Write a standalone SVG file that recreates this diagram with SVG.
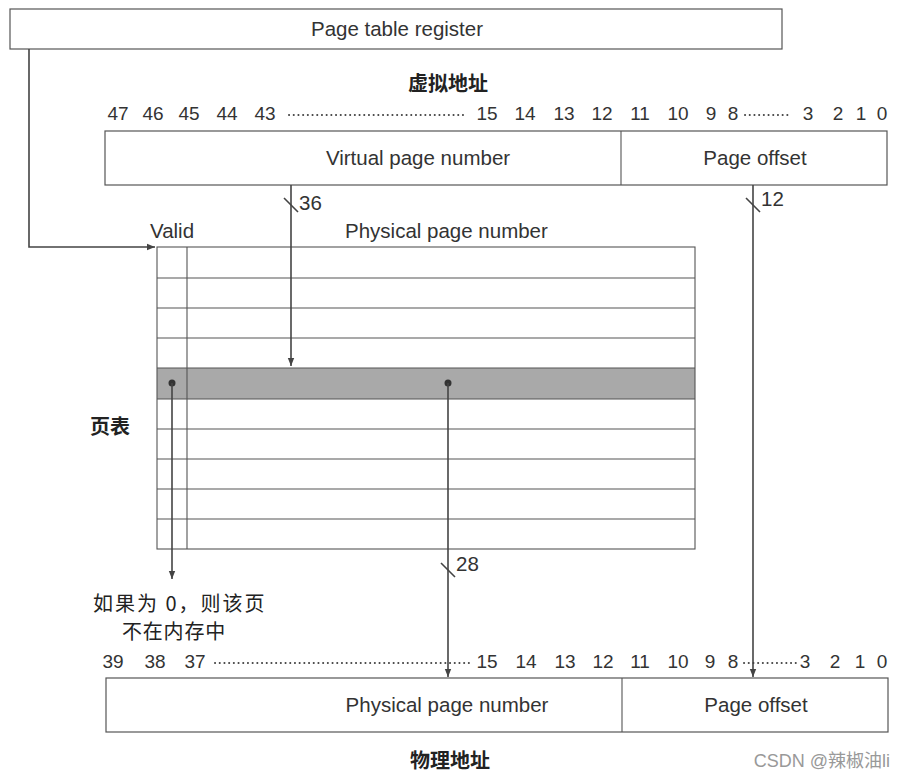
<svg xmlns="http://www.w3.org/2000/svg" width="906" height="779" viewBox="0 0 906 779">
<style>
.box{fill:#fff;stroke:#555;stroke-width:1.2}
.t{font-family:"Liberation Sans",Arial,sans-serif;font-size:20.5px;fill:#333}
.n{font-family:"Liberation Sans",Arial,sans-serif;font-size:19px;fill:#333;text-anchor:middle}
.c{text-anchor:middle}
.zh{font-family:"Noto Sans CJK SC","Noto Sans",sans-serif;font-size:20px;fill:#222}
.zb{font-family:"Noto Sans CJK SC","Noto Sans",sans-serif;font-size:20px;font-weight:bold;fill:#222}
.ln{stroke:#444;stroke-width:1.6;fill:none}
.tl{stroke:#555;stroke-width:1.1;fill:none}
.dot{stroke:#444;stroke-width:2;stroke-dasharray:0.1 4.6;stroke-linecap:round}
</style>
<defs>
<marker id="ah" markerWidth="10" markerHeight="10" refX="8" refY="4" orient="auto" markerUnits="userSpaceOnUse">
<path d="M0,0.8 L8,4 L0,7.2 Z" fill="#444"/>
</marker>
</defs>

<g id="page-table-register">
<rect class="box" x="10" y="9" width="772" height="40"/>
<text class="t c" x="397" y="36">Page table register</text>
</g>

<g id="virtual-address">
<text class="zb c" x="448" y="91">虚拟地址</text>
<text class="n" x="118" y="120">47</text>
<text class="n" x="153" y="120">46</text>
<text class="n" x="189" y="120">45</text>
<text class="n" x="227" y="120">44</text>
<text class="n" x="265" y="120">43</text>
<line class="dot" x1="289" y1="115" x2="466" y2="115"/>
<text class="n" x="487" y="120">15</text>
<text class="n" x="525" y="120">14</text>
<text class="n" x="564" y="120">13</text>
<text class="n" x="602" y="120">12</text>
<text class="n" x="640" y="120">11</text>
<text class="n" x="678" y="120">10</text>
<text class="n" x="711" y="120">9</text>
<text class="n" x="733" y="120">8</text>
<line class="dot" x1="745" y1="115" x2="792" y2="115"/>
<text class="n" x="808" y="120">3</text>
<text class="n" x="838" y="120">2</text>
<text class="n" x="861" y="120">1</text>
<text class="n" x="882" y="120">0</text>
<rect class="box" x="105" y="131" width="782" height="54"/>
<line class="tl" x1="621" y1="131" x2="621" y2="185"/>
<text class="t c" x="418" y="165">Virtual page number</text>
<text class="t c" x="755" y="165">Page offset</text>
</g>

<g id="page-table">
<text class="t" x="150" y="238">Valid</text>
<text class="t" x="345" y="238">Physical page number</text>
<text class="zb" x="90" y="434">页表</text>
<rect x="157" y="368" width="538" height="31" fill="#a9a9a9"/>
<rect class="tl" x="157" y="247" width="538" height="302"/>
<line class="tl" x1="187" y1="247" x2="187" y2="549"/>
<line class="tl" x1="157" y1="278" x2="695" y2="278"/>
<line class="tl" x1="157" y1="308" x2="695" y2="308"/>
<line class="tl" x1="157" y1="338" x2="695" y2="338"/>
<line class="tl" x1="157" y1="368" x2="695" y2="368"/>
<line class="tl" x1="157" y1="399" x2="695" y2="399"/>
<line class="tl" x1="157" y1="429" x2="695" y2="429"/>
<line class="tl" x1="157" y1="459" x2="695" y2="459"/>
<line class="tl" x1="157" y1="489" x2="695" y2="489"/>
<line class="tl" x1="157" y1="519" x2="695" y2="519"/>
</g>

<g id="note">
<text class="zh" x="93" y="611" letter-spacing="2">如果为 0，则该页</text>
<text class="zh" x="122" y="639" letter-spacing="0.8">不在内存中</text>
</g>

<g id="physical-address">
<text class="n" x="113" y="668">39</text>
<text class="n" x="155" y="668">38</text>
<text class="n" x="195" y="668">37</text>
<line class="dot" x1="215" y1="663" x2="472" y2="663"/>
<text class="n" x="487" y="668">15</text>
<text class="n" x="526" y="668">14</text>
<text class="n" x="565" y="668">13</text>
<text class="n" x="603" y="668">12</text>
<text class="n" x="640" y="668">11</text>
<text class="n" x="678" y="668">10</text>
<text class="n" x="710" y="668">9</text>
<text class="n" x="733" y="668">8</text>
<line class="dot" x1="744" y1="663" x2="797" y2="663"/>
<text class="n" x="805" y="668">3</text>
<text class="n" x="835" y="668">2</text>
<text class="n" x="860" y="668">1</text>
<text class="n" x="882" y="668">0</text>
<rect class="box" x="106" y="678" width="782" height="54"/>
<line class="tl" x1="622" y1="678" x2="622" y2="732"/>
<text class="t c" x="447" y="712">Physical page number</text>
<text class="t c" x="756" y="712">Page offset</text>
<text class="zb c" x="450" y="768">物理地址</text>
</g>

<g id="connectors">
<path class="ln" d="M29,49 V247 H155" marker-end="url(#ah)"/>
<line class="ln" x1="291" y1="185" x2="291" y2="366" marker-end="url(#ah)"/>
<line class="ln" x1="284" y1="198" x2="298" y2="212"/>
<text class="t" x="299" y="210">36</text>
<line class="ln" x1="753" y1="185" x2="753" y2="677" marker-end="url(#ah)"/>
<line class="ln" x1="746" y1="198" x2="760" y2="212"/>
<text class="t" x="761" y="206">12</text>
<circle cx="172" cy="383" r="3.5" fill="#333"/>
<line class="ln" x1="172" y1="383" x2="172" y2="579" marker-end="url(#ah)"/>
<circle cx="448" cy="383" r="3.5" fill="#333"/>
<line class="ln" x1="448" y1="383" x2="448" y2="677" marker-end="url(#ah)"/>
<line class="ln" x1="441" y1="563" x2="455" y2="577"/>
<text class="t" x="456" y="571">28</text>
</g>

<text x="890" y="767" font-family="'Liberation Sans','Noto Sans CJK SC',sans-serif" font-size="18" fill="#999" text-anchor="end">CSDN @辣椒油li</text>
</svg>
